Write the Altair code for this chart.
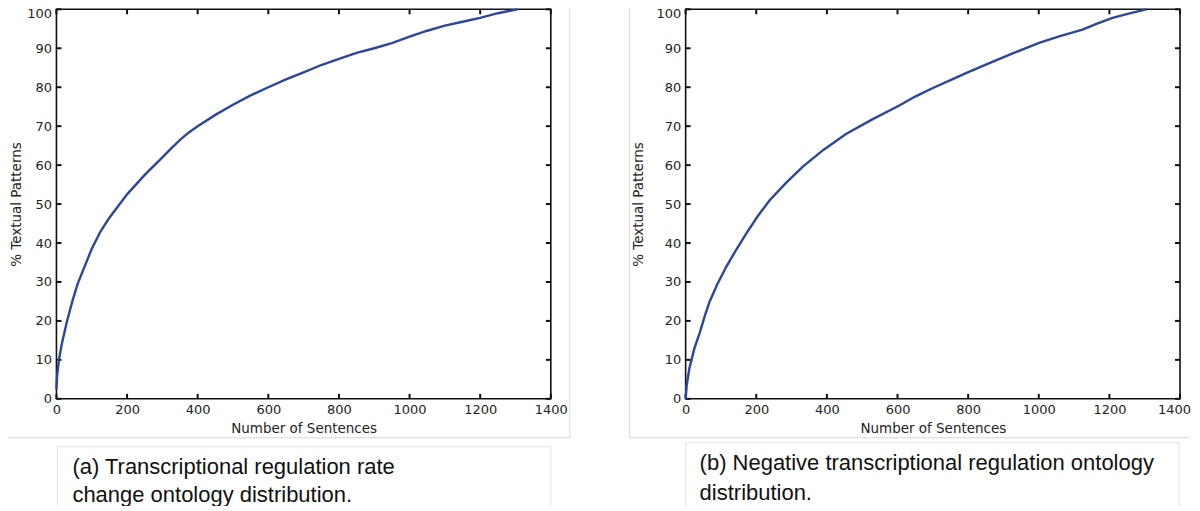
import altair as alt
import pandas as pd

# ---- data ----
A_X = [0, 2, 7, 15, 30, 45, 60, 80, 100, 125, 150, 175, 200, 250, 300, 325, 350,
       375, 400, 450, 500, 550, 600, 650, 700, 750, 800, 850, 900, 950, 1000,
       1050, 1100, 1150, 1200, 1250, 1305]
A_Y = [2.5, 6, 10, 14, 20, 25, 29.5, 34, 38.5, 43, 46.5, 49.5, 52.5, 57.5, 62,
       64.3, 66.5, 68.4, 70, 72.9, 75.5, 77.9, 80, 82, 83.8, 85.7, 87.3, 88.8,
       90, 91.3, 93, 94.5, 95.8, 96.8, 97.8, 99, 100]

B_X = [0, 3, 11, 25, 40, 55, 68, 90, 115, 140, 172, 205, 238, 285, 332, 390,
       454, 530, 605, 650, 700, 750, 794, 850, 916, 960, 1001, 1060, 1124, 1165,
       1209, 1260, 1305]
B_Y = [0, 3.5, 8, 13, 17, 21.5, 25, 29.5, 33.9, 37.8, 42.5, 47, 51, 55.5, 59.6,
       63.9, 68, 71.8, 75.3, 77.6, 79.8, 81.8, 83.6, 85.8, 88.3, 89.9, 91.4,
       93.1, 94.8, 96.3, 97.8, 99, 100]

X_TICKS = [0, 200, 400, 600, 800, 1000, 1200, 1400]
Y_TICKS = [0, 10, 20, 30, 40, 50, 60, 70, 80, 90, 100]
X_LABEL = "Number of Sentences"
Y_LABEL = "% Textual Patterns"
CAPTION_A = ["(a) Transcriptional regulation rate", "change ontology distribution."]
CAPTION_B = ["(b) Negative transcriptional regulation ontology", "distribution."]

W, H = 495, 390
TICK = 5


def panel(xs, ys, caption, frame_rules, box, text_x, text_y, ytitle_pad, last_shift):
    df = pd.DataFrame({"x": xs, "y": ys})
    xt = pd.DataFrame({"x": X_TICKS})
    yt = pd.DataFrame({"y": Y_TICKS})
    one = pd.DataFrame({"d": [0]})

    xs_ = alt.Scale(domain=[0, 1400], nice=False, zero=False)
    ys_ = alt.Scale(domain=[0, 100], nice=False, zero=False)
    xaxis = alt.Axis(values=X_TICKS, title=X_LABEL, labelPadding=5, titlePadding=5,
                     labelFlush=False, labelOverlap=False, format="d",
                     labelOffset={"condition": {"test": "datum.value == 1400",
                                                "value": last_shift},
                                  "value": 0})
    yaxis = alt.Axis(values=Y_TICKS, title=Y_LABEL, labelPadding=5,
                     titlePadding=ytitle_pad, labelFlush=False, labelOverlap=False,
                     format="d",
                     labelOffset={"condition": {"test": "datum.value == 100",
                                                "value": 4},
                                  "value": 0})
    X = alt.X("x:Q", scale=xs_, axis=xaxis)
    Y = alt.Y("y:Q", scale=ys_, axis=yaxis)

    layers = []
    # light gray outer frame pieces
    for fr in frame_rules:
        layers.append(alt.Chart(one).mark_rule(color="#d6d6d6", strokeWidth=1)
                      .encode(**{k: alt.value(v) for k, v in fr.items()}))
    # caption box
    bx0, bx1, by0, by1 = box
    layers.append(alt.Chart(one).mark_rect(fill="white", stroke="#e2e2e2", strokeWidth=1)
                  .encode(x=alt.value(bx0), x2=alt.value(bx1),
                          y=alt.value(by0), y2=alt.value(by1)))
    # inward ticks on all four sides
    tk = dict(color="#111", strokeWidth=2)
    layers.append(alt.Chart(xt).mark_rule(**tk).encode(x=X, y=alt.value(H), y2=alt.value(H - TICK)))
    layers.append(alt.Chart(xt).mark_rule(**tk).encode(x=X, y=alt.value(0), y2=alt.value(TICK)))
    layers.append(alt.Chart(yt).mark_rule(**tk).encode(y=Y, x=alt.value(0), x2=alt.value(TICK)))
    layers.append(alt.Chart(yt).mark_rule(**tk).encode(y=Y, x=alt.value(W), x2=alt.value(W - TICK)))
    # the curve
    layers.append(alt.Chart(df).mark_line(color="#2c469b", strokeWidth=2.4).encode(x=X, y=Y))
    # caption text
    for i, line in enumerate(caption):
        layers.append(alt.Chart(one).mark_text(align="left", baseline="alphabetic",
                                               font="Liberation Sans", fontSize=22,
                                               color="#111")
                      .encode(x=alt.value(text_x), y=alt.value(text_y[i]),
                              text=alt.value(line)))
    return alt.layer(*layers).properties(width=W, height=H)


pa = panel(A_X, A_Y, CAPTION_A,
           frame_rules=[dict(x=-56, x2=514, y=429), dict(x=514, y=-9, y2=429)],
           box=(1, 495, 438, 505), text_x=16, text_y=[465, 493],
           ytitle_pad=3, last_shift=0)
pb = panel(B_X, B_Y, CAPTION_B,
           frame_rules=[dict(x=-56, y=-9, y2=429), dict(x=-56, x2=504, y=429)],
           box=(0, 494, 434, 505), text_x=14, text_y=[461.5, 491],
           ytitle_pad=10, last_shift=-6)

chart = (
    alt.hconcat(pa, pb, spacing=135, bounds="flush")
    .properties(padding={"left": -9.5, "top": -10, "right": 0, "bottom": -10})
    .configure_view(stroke="#111", strokeWidth=1.6)
    .configure_axis(ticks=False, domain=False, grid=False,
                    labelFont="DejaVu Sans", labelFontSize=13, labelColor="#222",
                    titleFont="DejaVu Sans", titleFontSize=13.5,
                    titleFontWeight="normal", titleColor="#222")
)

chart.save("out.html", embed_options={"renderer": "svg", "actions": False})
